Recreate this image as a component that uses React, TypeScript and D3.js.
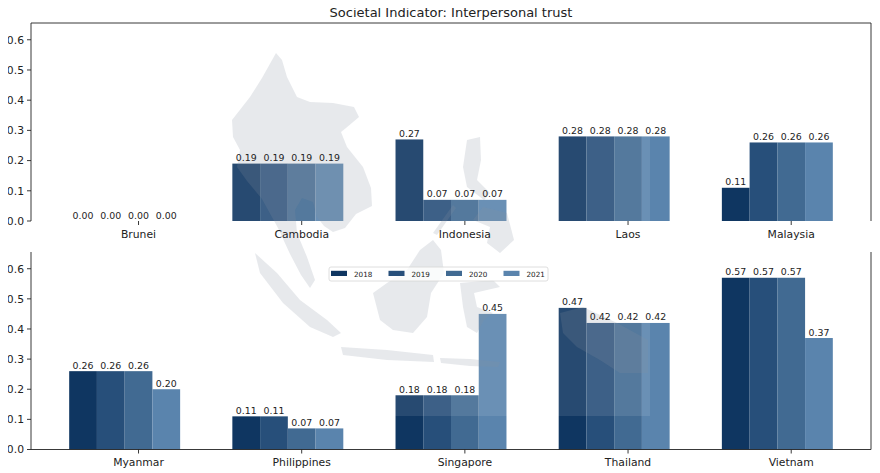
import React from 'react';
import * as d3 from 'd3';

const years = ['2018', '2019', '2020', '2021'];
const colors = ['#0f3661', '#274f7a', '#416a92', '#5a84ad'];

const topCountries = ['Brunei', 'Cambodia', 'Indonesia', 'Laos', 'Malaysia'];
const topValues = [
  [0, 0, 0, 0],
  [0.19, 0.19, 0.19, 0.19],
  [0.27, 0.07, 0.07, 0.07],
  [0.28, 0.28, 0.28, 0.28],
  [0.11, 0.26, 0.26, 0.26],
];

const bottomCountries = ['Myanmar', 'Philippines', 'Singapore', 'Thailand', 'Vietnam'];
const bottomValues = [
  [0.26, 0.26, 0.26, 0.2],
  [0.11, 0.11, 0.07, 0.07],
  [0.18, 0.18, 0.18, 0.45],
  [0.47, 0.42, 0.42, 0.42],
  [0.57, 0.57, 0.57, 0.37],
];

const yTicks = [0, 0.1, 0.2, 0.3, 0.4, 0.5, 0.6];
const barWidth = 0.17;
const yMax = 0.6555;

// rough silhouette of the region, drawn faintly over the bars like the source image
const mapShapes = [
  'M276,53 L282,60 L287,77 L297,97 L310,102 L333,103 L354,107 L359,117 L346,128 L341,132 L347,147 L363,167 L371,188 L372,206 L356,214 L345,228 L333,232 L324,226 L317,217 L313,202 L302,198 L295,210 L297,233 L307,257 L315,280 L310,288 L301,275 L290,254 L278,228 L262,199 L247,181 L237,167 L240,150 L233,137 L232,120 L250,97 L262,78 Z',
  'M255,253 L277,273 L300,300 L327,320 L341,333 L333,337 L310,327 L283,303 L260,273 Z',
  'M341,347 L387,350 L433,355 L434,362 L387,360 L343,355 Z',
  'M440,358 L470,359 L500,362 L498,367 L470,366 L441,363 Z',
  'M373,293 L387,283 L407,270 L420,250 L433,240 L441,250 L444,273 L431,293 L427,317 L413,333 L393,330 L380,320 Z',
  'M460,283 L493,280 L500,287 L474,293 L477,307 L493,313 L484,320 L477,333 L467,327 L463,307 Z',
  'M467,140 L480,137 L481,160 L477,180 L490,193 L484,200 L467,187 L463,167 Z',
  'M483,207 L507,213 L514,240 L500,253 L487,243 L490,227 L473,220 Z',
  'M453,205 L456,208 L437,235 L433,233 Z',
  'M560,313 L583,307 L617,323 L648,340 L648,373 L620,373 L600,360 L577,347 L563,333 Z',
];

const x = d3.scaleLinear().domain([-0.659, 4.489]).range([31, 871]);
const font = 'DejaVu Sans, sans-serif';

interface PanelProps {
  countries: string[];
  values: number[][];
  top: number;
  bottom: number;
  frame: 'top' | 'bottom';
}

const barCenter = (i: number, j: number) => i + (j - 2) * barWidth;

const Bars: React.FC<PanelProps> = ({ countries, values, top, bottom }) => {
  const y = d3.scaleLinear().domain([0, yMax]).range([bottom, top]);
  return (
    <g>
      {countries.map((c, i) =>
        values[i].map((v, j) => {
          const cx = barCenter(i, j);
          return (
            <rect
              key={`${c}-${j}`}
              x={x(cx - barWidth / 2)}
              y={y(v)}
              width={x(cx + barWidth / 2) - x(cx - barWidth / 2)}
              height={y(0) - y(v)}
              fill={colors[j]}
            />
          );
        })
      )}
    </g>
  );
};

const Axes: React.FC<PanelProps> = ({ countries, values, top, bottom, frame }) => {
  const y = d3.scaleLinear().domain([0, yMax]).range([bottom, top]);
  const [x0, x1] = x.range();
  return (
    <g fontFamily={font} fill="#222">
      {countries.map((c, i) =>
        values[i].map((v, j) => (
          <text key={`${c}-l${j}`} x={x(barCenter(i, j))} y={y(v) - 2.5} fontSize={9.4} textAnchor="middle">
            {v.toFixed(2)}
          </text>
        ))
      )}
      {yTicks.map(t => (
        <g key={t}>
          <line x1={x0 - 4} x2={x0} y1={y(t)} y2={y(t)} stroke="#222" strokeWidth={0.9} />
          <text x={x0 - 7} y={y(t)} dy="0.36em" fontSize={10.8} textAnchor="end">
            {t.toFixed(1)}
          </text>
        </g>
      ))}
      {countries.map((c, i) => (
        <g key={c}>
          <line x1={x(i)} x2={x(i)} y1={bottom} y2={bottom + 4} stroke="#222" strokeWidth={0.9} />
          <text x={x(i)} y={bottom + 16.5} fontSize={10.8} textAnchor="middle">
            {c}
          </text>
        </g>
      ))}
      <g stroke="#222" strokeWidth={0.9} fill="none">
        <line x1={x0} x2={x0} y1={top} y2={bottom} />
        <line x1={x1} x2={x1} y1={top} y2={bottom} />
        {frame === 'top' ? (
          <line x1={x0} x2={x1} y1={top} y2={top} />
        ) : (
          <line x1={x0} x2={x1} y1={bottom} y2={bottom} />
        )}
      </g>
    </g>
  );
};

const Legend: React.FC = () => {
  const lx = 329;
  const ly = 267;
  const step = 57.5;
  return (
    <g fontFamily={font}>
      <rect x={lx} y={ly} width={219} height={14} fill="#fff" fillOpacity={0.8} stroke="#d6d6d6" strokeWidth={0.8} rx={2} />
      {years.map((yr, j) => (
        <g key={yr} transform={`translate(${lx + 2 + j * step}, ${ly})`}>
          <rect x={0} y={3.8} width={16} height={5.2} fill={colors[j]} />
          <text x={23} y={9.8} fontSize={7.2} fill="#222">
            {yr}
          </text>
        </g>
      ))}
    </g>
  );
};

export default function App() {
  const topPanel = { countries: topCountries, values: topValues, top: 23, bottom: 221, frame: 'top' as const };
  const bottomPanel = { countries: bottomCountries, values: bottomValues, top: 252, bottom: 449.5, frame: 'bottom' as const };
  return (
    <svg width={880} height={473} style={{ display: 'block', margin: '-8px 0 0 -8px' }}>
      <rect width={880} height={473} fill="#fff" />
      <text x={451} y={17} textAnchor="middle" fontFamily={font} fontSize={13} fill="#222">
        Societal Indicator: Interpersonal trust
      </text>
      <Bars {...topPanel} />
      <Bars {...bottomPanel} />
      <g>
        <rect x={214} y={33} width={436} height={383} fill="#fff" fillOpacity={0.1} />
        {mapShapes.map((d, i) => (
          <path key={i} d={d} fill="#87909f" fillOpacity={0.2} />
        ))}
      </g>
      <Axes {...topPanel} />
      <Axes {...bottomPanel} />
      <Legend />
    </svg>
  );
}
